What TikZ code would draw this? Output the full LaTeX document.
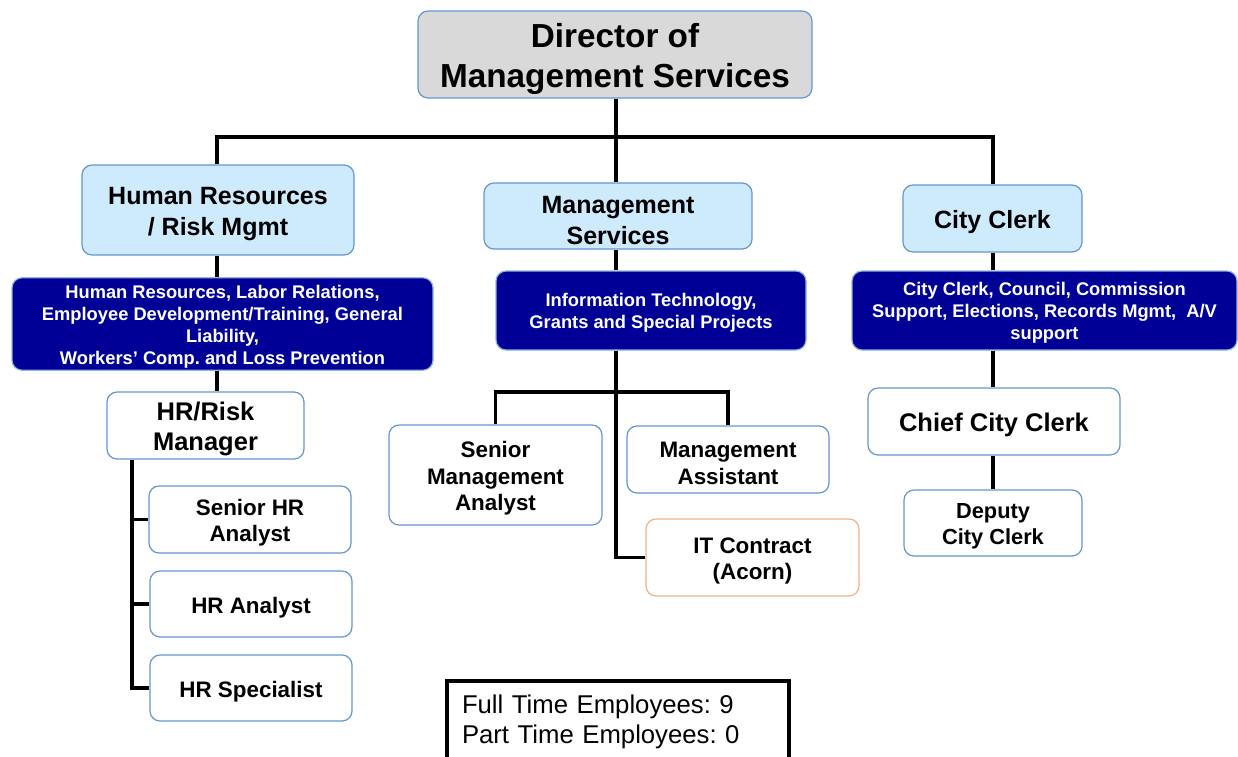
\documentclass[tikz,border=0pt]{standalone}
\usepackage{fontspec}
\setmainfont{Liberation Sans}
\frenchspacing
\definecolor{bordblue}{RGB}{100,150,210}
\definecolor{lightfill}{RGB}{205,235,252}
\definecolor{dirgray}{RGB}{217,217,217}
\definecolor{navy}{RGB}{0,0,150}
\definecolor{orangeb}{RGB}{244,177,131}
\newcommand{\tstr}{\rule{0pt}{1.02em}}
\tikzset{
  box/.style={draw=bordblue, line width=1.2pt, rounded corners=10pt, align=center, inner sep=2pt, font=\bfseries},
  dirbox/.style={box, fill=dirgray, font=\fontsize{33.3}{40}\selectfont\bfseries},
  headbox/.style={box, fill=lightfill, font=\fontsize{25}{31}\selectfont\bfseries},
  navybox/.style={box, fill=navy, text=white, draw=bordblue!70, font=\fontsize{18.3}{22}\selectfont\bfseries},
  posbox/.style={box, fill=white, font=\fontsize{22.4}{26.5}\selectfont\bfseries},
  bigpos/.style={box, fill=white, font=\fontsize{25.5}{30}\selectfont\bfseries},
  conn/.style={draw=black, line width=3.5pt},
  empbox/.style={draw=black, line width=4pt, align=left, inner sep=0pt, font=\fontsize{25.7}{30}\selectfont}
}
\begin{document}
\begin{tikzpicture}[x=1pt,y=-1pt]
\useasboundingbox (0,0) rectangle (1238,756);
% nodes
\node[dirbox, minimum width=394, minimum height=87] (dir) at (615,54.5) {\tstr Director of\\Management Services};
\node[headbox, minimum width=272, minimum height=90] (hr) at (218,210) {\tstr Human Resources\\/ Risk Mgmt};
\node[headbox, minimum width=268, minimum height=66] (ms) at (618,216) {\tstr Management\\Services};
\node[headbox, minimum width=179, minimum height=67] (cc) at (992.5,218.5) {\tstr City Clerk};
\node[navybox, minimum width=421, minimum height=92] (hrn) at (222.5,324) {\tstr Human Resources, Labor Relations,\\Employee Development/Training, General\\Liability,\\Workers’ Comp. and Loss Prevention};
\node[navybox, minimum width=310, minimum height=79] (msn) at (651,310.5) {\tstr Information Technology,\\Grants and Special Projects};
\node[navybox, minimum width=385, minimum height=79] (ccn) at (1044.5,310.5) {\tstr City Clerk, Council, Commission\\Support, Elections, Records Mgmt,~~A/V\\support};
\node[bigpos, minimum width=197, minimum height=67] (mgr) at (205.5,425.5) {\tstr HR/Risk\\Manager};
\node[posbox, minimum width=202, minimum height=67] (sha) at (250,519.5) {\tstr Senior HR\\Analyst};
\node[posbox, minimum width=202, minimum height=66] (hra) at (251,604) {\tstr HR Analyst};
\node[posbox, minimum width=202, minimum height=66] (hrs) at (251,688) {\tstr HR Specialist};
\node[posbox, minimum width=213, minimum height=100] (sma) at (495.5,475) {\tstr Senior\\Management\\Analyst};
\node[posbox, minimum width=202, minimum height=67] (mas) at (728,459.5) {\tstr Management\\Assistant};
\node[posbox, draw=orangeb, minimum width=213, minimum height=77] (itc) at (752.5,557.5) {\tstr IT Contract\\(Acorn)};
\node[bigpos, minimum width=252, minimum height=67] (ccc) at (994,421.5) {\tstr Chief City Clerk};
\node[posbox, font=\fontsize{21.8}{26}\selectfont\bfseries, minimum width=178, minimum height=66] (dcc) at (993,523) {\tstr Deputy\\City Clerk};
\node[empbox, minimum width=342, minimum height=82, text width=312] (emp) at (618,722) {Full Time Employees: 9\\Part Time Employees: 0};
% coordinates
\coordinate (bus) at (616,137);
\coordinate (hrx) at (217,137);
\coordinate (ccx) at (993,137);
\coordinate (hrspine) at (132,459);
\coordinate (msbus) at (616,392);
% connectors
\draw[conn] (dir.south -| bus) -- (ms.north -| bus);
\draw[conn] (hr.north -| hrx) -- (hrx) -- (ccx) -- (cc.north -| ccx);
\draw[conn] (hr.south -| hrx) -- (hrn.north -| hrx);
\draw[conn] (hrn.south -| hrx) -- (mgr.north -| hrx);
\draw[conn] (mgr.south -| hrspine) |- (hrs.west);
\draw[conn] (hrspine |- sha.west) -- (sha.west);
\draw[conn] (hrspine |- hra.west) -- (hra.west);
\draw[conn] (ms.south -| bus) -- (msn.north -| bus);
\draw[conn] (msn.south -| bus) |- (itc.west);
\draw[conn] (sma.north) |- (msbus) -| (mas.north);
\draw[conn] (cc.south -| ccx) -- (ccn.north -| ccx);
\draw[conn] (ccn.south -| ccx) -- (ccc.north -| ccx);
\draw[conn] (ccc.south -| ccx) -- (dcc.north -| ccx);
\end{tikzpicture}
\end{document}
